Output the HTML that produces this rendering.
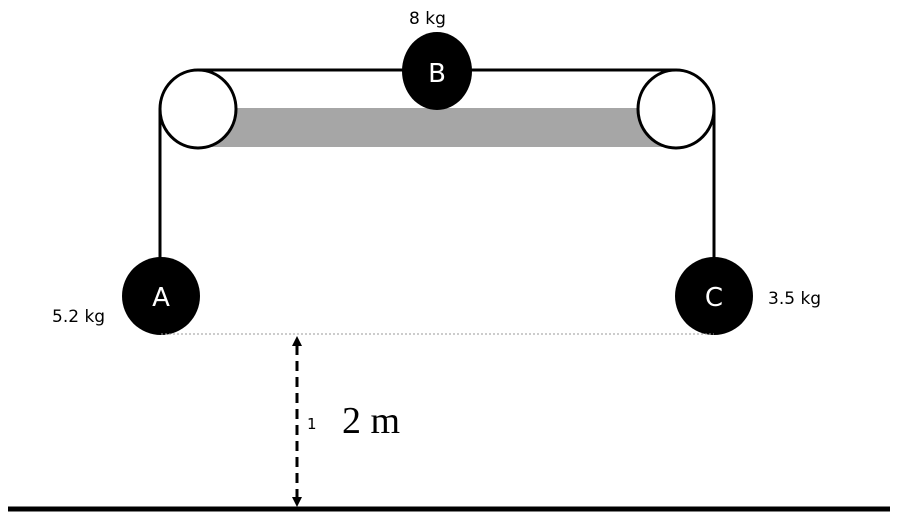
<!DOCTYPE html><html><head><style>body{margin:0;background:#fff}</style></head><body>
<svg width="898" height="521" xmlns="http://www.w3.org/2000/svg" style="display:block">
<rect width="898" height="521" fill="#fff"/>
<rect x="198" y="108" width="478" height="39" fill="#a6a6a6"/>
<line x1="198" y1="70" x2="676" y2="70" stroke="#000" stroke-width="3"/>
<line x1="160" y1="109" x2="160" y2="262" stroke="#000" stroke-width="3"/>
<line x1="714" y1="109" x2="714" y2="262" stroke="#000" stroke-width="3"/>
<ellipse cx="198" cy="109" rx="38" ry="39" fill="#fff" stroke="#000" stroke-width="3"/>
<ellipse cx="676" cy="109" rx="38" ry="39" fill="#fff" stroke="#000" stroke-width="3"/>
<ellipse cx="437" cy="71" rx="35" ry="39" fill="#000"/>
<circle cx="161" cy="296" r="39" fill="#000"/>
<circle cx="714" cy="296" r="39" fill="#000"/>
<g font-family="DejaVu Sans, Liberation Sans, sans-serif" fill="#fff" font-size="26" text-anchor="middle">
<text x="437" y="82">B</text><text x="161" y="306">A</text><text x="714" y="306">C</text></g>
<g font-family="DejaVu Sans, Liberation Sans, sans-serif" fill="#000" font-size="17">
<text x="409" y="24">8 kg</text><text x="52" y="322">5.2 kg</text><text x="768" y="304">3.5 kg</text></g>
<line x1="161" y1="334" x2="714" y2="334" stroke="#999" stroke-width="1" stroke-dasharray="2,2"/>
<line x1="297" y1="345" x2="297" y2="498" stroke="#000" stroke-width="3" stroke-dasharray="10,6"/>
<polygon points="297,336 292,346 302,346" fill="#000"/>
<polygon points="297,507 292,497 302,497" fill="#000"/>
<text x="307" y="429" font-family="DejaVu Sans, sans-serif" font-size="15">1</text>
<text x="342" y="433" font-family="Liberation Serif, serif" font-size="38">2 m</text>
<line x1="8" y1="509" x2="890" y2="509" stroke="#000" stroke-width="5"/>
</svg></body></html>
